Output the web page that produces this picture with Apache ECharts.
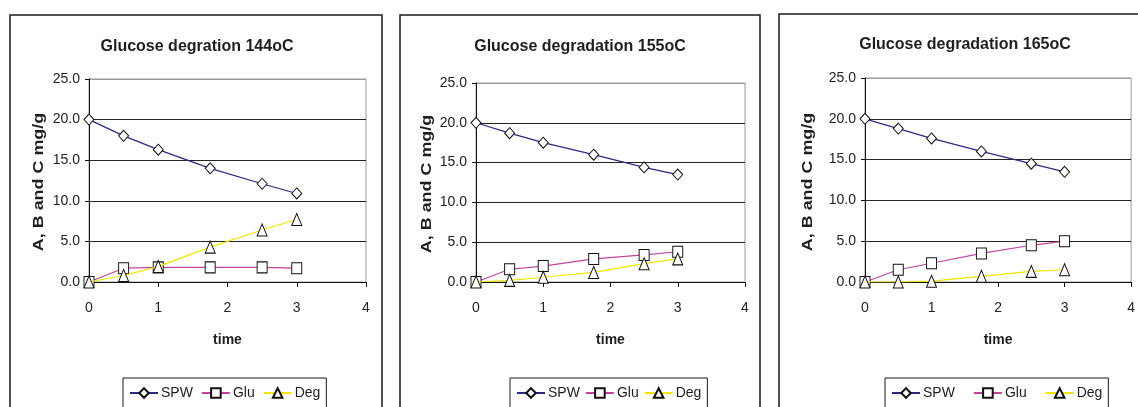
<!DOCTYPE html>
<html>
<head>
<meta charset="utf-8">
<script src="https://cdn.jsdelivr.net/npm/echarts@6/dist/echarts.min.js"></script>
<style>
  html, body { margin: 0; padding: 0; background: #fff; }
  #chart { width: 1138px; height: 407px; }
</style>
</head>
<body>
<div id="chart"></div>
<script>
// Sampling times (x axis)
const time = [0, 0.5, 1, 1.75, 2.5, 3];

// 144 oC run
const spw144 = [20.0, 18.0, 16.3, 14.0, 12.1, 10.9];
const glu144 = [0.0, 1.7, 1.8, 1.8, 1.8, 1.7];
const deg144 = [0.0, 0.8, 1.9, 4.3, 6.4, 7.7];

// 155 oC run
const spw155 = [20.0, 18.7, 17.5, 16.0, 14.4, 13.5];
const glu155 = [0.0, 1.6, 2.0, 2.9, 3.4, 3.8];
const deg155 = [0.0, 0.2, 0.6, 1.2, 2.3, 2.9];

// 165 oC run
const spw165 = [20.0, 18.8, 17.6, 16.0, 14.5, 13.5];
const glu165 = [0.0, 1.5, 2.3, 3.5, 4.5, 5.0];
const deg165 = [0.0, 0.0, 0.1, 0.7, 1.3, 1.5];

const titles = ['Glucose degration 144oC', 'Glucose degradation 155oC', 'Glucose degradation 165oC'];
const seriesNames = ['SPW', 'Glu', 'Deg'];
const yAxisName = 'A, B and C mg/g';
const xAxisName = 'time';

const runs = [
  [spw144, glu144, deg144],
  [spw155, glu155, deg155],
  [spw165, glu165, deg165]
];

const FONT = 'Arial, "Liberation Sans", sans-serif';
const lineColors = ['#2a2a86', '#c2449f', '#f2e600'];
const symbols = ['diamond', 'rect', 'triangle'];

// Layout of each panel
const panels = [
  { frame: [10, 15, 372], grid: [89, 79, 277, 203], titleX: 197, titleY: 39, nameX: 39, nameY: 182, legendX: 123, legendGap: 8 },
  { frame: [400, 15, 360], grid: [476, 83, 269, 199], titleX: 580, titleY: 39, nameX: 427, nameY: 184, legendX: 510, legendGap: 5 },
  { frame: [779, 14, 400], grid: [865, 78, 268, 204], titleX: 965, titleY: 37, nameX: 808, nameY: 182, legendX: 885, legendGap: 18 }
];

const option = {
  animation: false,
  backgroundColor: '#fff',
  title: [], grid: [], xAxis: [], yAxis: [], legend: [], series: [],
  graphic: []
};

panels.forEach((p, i) => {
  // panel frame
  option.graphic.push({
    type: 'rect', silent: true, z: 0,
    shape: { x: p.frame[0], y: p.frame[1], width: p.frame[2], height: 460 },
    style: { fill: null, stroke: '#1a1a1a', lineWidth: 1.5 }
  });
  // vertical axis caption, stretched along its reading direction
  option.graphic.push({
    type: 'text', silent: true, z: 10,
    x: p.nameX, y: p.nameY, rotation: Math.PI / 2, scaleX: 1.28,
    style: {
      text: yAxisName, fontFamily: FONT, fontSize: 14, fontWeight: 'bold',
      fill: '#1e1e1e', align: 'center', verticalAlign: 'middle'
    }
  });
  option.title.push({
    text: titles[i], left: p.titleX, top: p.titleY, textAlign: 'center', padding: 0,
    textStyle: { fontFamily: FONT, fontSize: 16, fontWeight: 'bold', color: '#1e1e1e' }
  });
  option.grid.push({
    left: p.grid[0], top: p.grid[1], width: p.grid[2], height: p.grid[3],
    show: true, borderColor: '#9a9a9a', borderWidth: 1, backgroundColor: 'transparent'
  });
  option.xAxis.push({
    type: 'value', gridIndex: i, min: 0, max: 4, interval: 1,
    name: xAxisName, nameLocation: 'middle', nameGap: 51,
    nameTextStyle: { fontFamily: FONT, fontSize: 14, fontWeight: 'bold', color: '#1e1e1e' },
    axisLine: { show: true, onZero: false, lineStyle: { color: '#111', width: 1 } },
    axisTick: { show: true, inside: false, length: 5, lineStyle: { color: '#111' } },
    axisLabel: { margin: 19, fontFamily: FONT, fontSize: 14, color: '#222' },
    splitLine: { show: false }
  });
  option.yAxis.push({
    type: 'value', gridIndex: i, min: 0, max: 25, interval: 5,
    axisLine: { show: true, lineStyle: { color: '#111', width: 1 } },
    axisTick: { show: true, inside: false, length: 4, lineStyle: { color: '#111' } },
    axisLabel: { margin: 9, fontFamily: FONT, fontSize: 14, color: '#222',
      formatter: v => v.toFixed(1) },
    splitLine: { show: true, lineStyle: {
      color: ['#222', '#222', '#222', '#222', '#222', '#9a9a9a'], width: 1 } }
  });
  option.legend.push({
    data: seriesNames.slice(), left: p.legendX, top: 378, orient: 'horizontal',
    padding: [8, 6, 10, 6], itemGap: p.legendGap, itemWidth: 28, itemHeight: 12,
    borderColor: '#1a1a1a', borderWidth: 1, backgroundColor: '#fff',
    textStyle: { fontFamily: FONT, fontSize: 14, color: '#1e1e1e', padding: [0, 0, 0, -2] },
    selectedMode: false
  });
  runs[i].forEach((vals, k) => {
    option.series.push({
      type: 'line', name: seriesNames[k], xAxisIndex: i, yAxisIndex: i,
      data: time.map((t, j) => [t, vals[j]]),
      symbol: symbols[k], symbolSize: k === 2 ? [10, 12] : [10, 11], showSymbol: true,
      lineStyle: { color: lineColors[k], width: 1.2 },
      itemStyle: { color: '#fff', borderColor: '#111', borderWidth: 1 },
      z: 3 + k
    });
  });
});

const chart = echarts.init(document.getElementById('chart'), null, { renderer: 'canvas' });
chart.setOption(option);
</script>
</body>
</html>
